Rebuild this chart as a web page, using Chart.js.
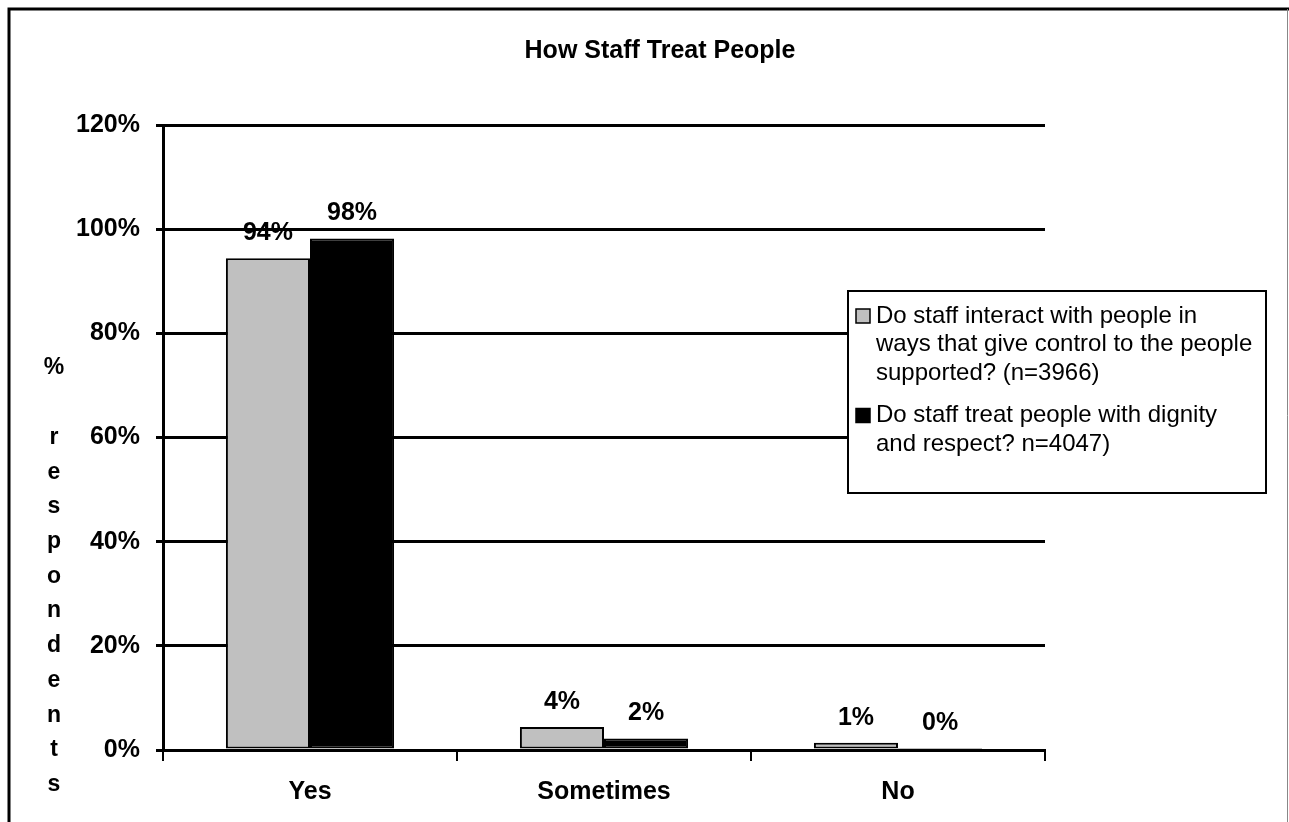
<!DOCTYPE html>
<html>
<head>
<meta charset="utf-8">
<script src="https://cdn.jsdelivr.net/npm/chart.js@4.4.1/dist/chart.umd.min.js"></script>
<style>
  html, body { margin: 0; padding: 0; background: #fff; }
  canvas { display: block; }
</style>
</head>
<body>
<canvas id="canvas" width="1289" height="822"></canvas>
<script>
// Datos del grafico
const categories = ['Yes', 'Sometimes', 'No'];
const controlValues = [94.4, 4.4, 1.4];
const dignityValues = [98.2, 2.2, 0.4];
const seriesLines = [
  ['Do staff interact with people in', 'ways that give control to the people', 'supported? (n=3966)'],
  ['Do staff treat people with dignity', 'and respect? n=4047)']
];
const seriesColors = ['#c0c0c0', '#000000'];
const yTicks = [0, 20, 40, 60, 80, 100, 120];
const chartTitle = 'How Staff Treat People';
const yTitle = '% respondents';

const FONT = '"Liberation Sans", Arial, sans-serif';

// Fondo, borde exterior, titulo y titulo vertical del eje Y
const framePlugin = {
  id: 'frame',
  beforeDraw(chart) {
    const ctx = chart.ctx;
    ctx.save();
    ctx.fillStyle = '#fff';
    ctx.fillRect(0, 0, chart.width, chart.height);
    ctx.strokeStyle = '#000';
    ctx.lineWidth = 3;
    ctx.beginPath();
    ctx.moveTo(9, chart.height);
    ctx.lineTo(9, 9);
    ctx.lineTo(chart.width, 9);
    ctx.stroke();
    ctx.strokeStyle = '#888';
    ctx.lineWidth = 1;
    ctx.beginPath();
    ctx.moveTo(chart.width - 1.5, 9);
    ctx.lineTo(chart.width - 1.5, chart.height);
    ctx.stroke();

    ctx.fillStyle = '#000';
    ctx.font = 'bold 25px ' + FONT;
    ctx.textAlign = 'center';
    ctx.textBaseline = 'middle';
    ctx.fillText(chartTitle, 660, 51);

    // letras apiladas, una por linea
    const y = chart.scales.y;
    const step = (y.getPixelForValue(0) - y.getPixelForValue(20)) / 3;
    ctx.font = 'bold 23px ' + FONT;
    const chars = yTitle.split('');
    chars.forEach((c, i) => {
      const py = y.getPixelForValue(0) - (chars.length - 2 - i) * step;
      ctx.fillText(c, 54, py);
    });
    ctx.restore();
  }
};

// Etiquetas de valor sobre cada barra
const valueLabels = {
  id: 'valueLabels',
  afterDatasetsDraw(chart) {
    const ctx = chart.ctx;
    ctx.save();
    ctx.fillStyle = '#000';
    ctx.font = 'bold 25px ' + FONT;
    ctx.textAlign = 'center';
    ctx.textBaseline = 'middle';
    chart.data.datasets.forEach((ds, i) => {
      chart.getDatasetMeta(i).data.forEach((bar, j) => {
        ctx.fillText(Math.round(ds.data[j]) + '%', bar.x, bar.y - 25);
      });
    });
    ctx.restore();
  }
};

// Leyenda con recuadro, dibujada sobre el area del grafico
const boxLegend = {
  id: 'boxLegend',
  afterDraw(chart) {
    const ctx = chart.ctx;
    const x = 848, y = 291, w = 418, h = 202;
    ctx.save();
    ctx.fillStyle = '#fff';
    ctx.fillRect(x, y, w, h);
    ctx.strokeStyle = '#000';
    ctx.lineWidth = 2;
    ctx.strokeRect(x, y, w, h);
    ctx.font = '24px ' + FONT;
    ctx.textBaseline = 'middle';
    ctx.textAlign = 'left';
    let ly = y + 25;
    seriesLines.forEach((lines, i) => {
      ctx.fillStyle = seriesColors[i];
      ctx.fillRect(x + 8, ly - 7, 14, 14);
      ctx.lineWidth = 1.5;
      ctx.strokeRect(x + 8, ly - 7, 14, 14);
      ctx.fillStyle = '#000';
      lines.forEach((line, k) => {
        ctx.fillText(line, x + 28, ly + k * 28.5);
      });
      ly += lines.length * 28.5 + 14;
    });
    ctx.restore();
  }
};

new Chart(document.getElementById('canvas'), {
  type: 'bar',
  data: {
    labels: categories,
    datasets: [
      {
        label: seriesLines[0].join(' '),
        data: controlValues,
        backgroundColor: seriesColors[0],
        borderColor: '#000',
        borderWidth: 2,
        borderSkipped: false
      },
      {
        label: seriesLines[1].join(' '),
        data: dignityValues,
        backgroundColor: seriesColors[1],
        borderColor: '#000',
        borderWidth: 2,
        borderSkipped: false
      }
    ]
  },
  options: {
    responsive: false,
    animation: false,
    devicePixelRatio: 1,
    layout: { padding: { left: 30, right: 244, top: 125, bottom: 0 } },
    datasets: {
      bar: { categoryPercentage: 0.572, barPercentage: 1.0 }
    },
    plugins: {
      legend: { display: false },
      title: { display: false },
      tooltip: { enabled: false }
    },
    scales: {
      x: {
        afterFit(scale) { scale.height = 72; },
        grid: {
          offset: true,
          drawOnChartArea: false,
          drawTicks: true,
          tickLength: 11,
          color: '#000',
          lineWidth: 2
        },
        border: { display: true, color: '#000', width: 3 },
        ticks: {
          color: '#000',
          padding: 16,
          font: { family: FONT, size: 25, weight: 'bold' }
        }
      },
      y: {
        min: 0,
        max: 120,
        afterFit(scale) { scale.width = 133; },
        afterBuildTicks(scale) {
          scale.ticks = yTicks.map(v => ({ value: v }));
        },
        grid: {
          color: '#000',
          lineWidth: 3,
          drawTicks: true,
          tickLength: 7
        },
        border: { display: true, color: '#000', width: 3 },
        ticks: {
          color: '#000',
          padding: 16,
          font: { family: FONT, size: 25, weight: 'bold' },
          callback: v => v + '%'
        }
      }
    }
  },
  plugins: [framePlugin, valueLabels, boxLegend]
});
</script>
</body>
</html>
